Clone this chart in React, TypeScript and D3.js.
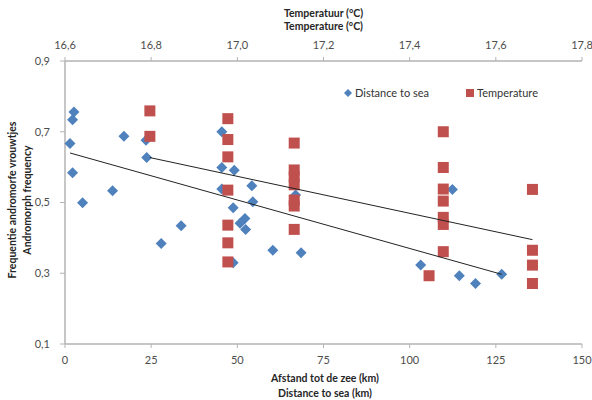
import React from "react";
import * as d3 from "d3";

const distanceKm = [2.6, 2.2, 1.45, 2.2, 5.1, 13.8, 17.1, 23.5, 23.7, 27.9, 33.7, 45.5, 45.5, 49.1, 45.5, 54.2, 48.8, 54.5, 52.2, 50.8, 52.4, 60.3, 68.5, 48.8, 66.9, 112.4, 103.2, 114.4, 119.1, 126.7];
const distanceFreq = [0.756, 0.734, 0.667, 0.584, 0.499, 0.533, 0.687, 0.676, 0.627, 0.384, 0.434, 0.70, 0.599, 0.591, 0.538, 0.547, 0.485, 0.502, 0.455, 0.441, 0.424, 0.365, 0.358, 0.330, 0.521, 0.537, 0.323, 0.293, 0.271, 0.297];

const tempC = [16.797, 16.797, 16.978, 16.978, 16.978, 16.978, 16.978, 16.978, 16.978, 17.132, 17.132, 17.132, 17.132, 17.132, 17.132, 17.132, 17.478, 17.478, 17.478, 17.478, 17.478, 17.478, 17.478, 17.445, 17.685, 17.685, 17.685, 17.685];
const tempFreq = [0.759, 0.687, 0.737, 0.678, 0.629, 0.535, 0.436, 0.386, 0.332, 0.668, 0.592, 0.573, 0.550, 0.507, 0.490, 0.424, 0.70, 0.599, 0.538, 0.504, 0.458, 0.438, 0.361, 0.293, 0.537, 0.365, 0.323, 0.271];

// trendline endpoints
const distanceTrend: [number, number][] = [[1.45, 0.640], [126.7, 0.297]];
const tempTrend: [number, number][] = [[16.797, 0.627], [17.685, 0.395]];

const distanceTicks = [0, 25, 50, 75, 100, 125, 150];
const tempTicks = [16.6, 16.8, 17.0, 17.2, 17.4, 17.6, 17.8];
const freqTicks = [0.1, 0.3, 0.5, 0.7, 0.9];

const BLUE = "#4F81BD";
const RED = "#C0504D";
const AXIS = "#b3b3b3";
const LABEL = "#4d4d4d";
const FONT = "Lato, 'Open Sans', sans-serif";

export default function App() {
  const W = 592, H = 400;
  const left = 65, right = 582, top = 61, bottom = 344;
  const x = d3.scaleLinear().domain([0, 150]).range([left, right]);
  const xt = d3.scaleLinear().domain([16.6, 17.8]).range([left, right]);
  const y = d3.scaleLinear().domain([0.1, 0.9]).range([bottom, top]);
  const fmt = (v: number, d: number) => v.toFixed(d).replace(".", ",");
  const r = 5.5;
  const s = 11;
  const line = d3.line<[number, number]>();

  return (
    <svg width={W} height={H} style={{ position: "absolute", left: 0, top: 0, background: "#fff" }} fontFamily={FONT}>
      <rect width={W} height={H} fill="#fff" />
      {/* axes */}
      <line x1={left} x2={left} y1={top} y2={bottom} stroke={AXIS} strokeWidth={1.5} />
      <line x1={left} x2={right} y1={bottom} y2={bottom} stroke={AXIS} strokeWidth={1.5} />
      <line x1={left} x2={right} y1={top} y2={top} stroke={AXIS} strokeWidth={1.5} />
      {freqTicks.map((t) => (
        <g key={"y" + t}>
          <line x1={left - 5} x2={left} y1={y(t)} y2={y(t)} stroke={AXIS} />
          <text x={left - 15} y={y(t)} dy="0.35em" textAnchor="end" fontSize={11} fill={LABEL}>{fmt(t, 1)}</text>
        </g>
      ))}
      {distanceTicks.map((t) => (
        <g key={"x" + t}>
          <line x1={x(t)} x2={x(t)} y1={bottom} y2={bottom + 4} stroke={AXIS} />
          <text x={x(t)} y={360.5} dy="0.35em" textAnchor="middle" fontSize={11} fill={LABEL}>{t}</text>
        </g>
      ))}
      {tempTicks.map((t) => (
        <g key={"t" + t}>
          <line x1={xt(t)} x2={xt(t)} y1={top - 4} y2={top} stroke={AXIS} />
          <text x={xt(t)} y={45.5} dy="0.35em" textAnchor="middle" fontSize={11} fill={LABEL}>{fmt(t, 1)}</text>
        </g>
      ))}
      {/* titles */}
      <g fontWeight="bold" fontSize={10.5} fill="#262626" textAnchor="middle">
        <text x={323.5} y={13} dy="0.35em">Temperatuur (°C)</text>
        <text x={323.5} y={26.5} dy="0.35em">Temperature (°C)</text>
        <text x={325} y={378} dy="0.35em">Afstand tot de zee (km)</text>
        <text x={325} y={393} dy="0.35em">Distance to sea (km)</text>
        <text transform="translate(12,200) rotate(-90)" dy="0.35em">Frequentie andromorfe vrouwtjes</text>
        <text transform="translate(27,200) rotate(-90)" dy="0.35em">Andromorph frequency</text>
      </g>
      {/* distance markers */}
      {distanceKm.map((d, i) => {
        const cx = x(d), cy = y(distanceFreq[i]);
        return <path key={"d" + i} d={`M${cx},${cy - r}L${cx + r},${cy}L${cx},${cy + r}L${cx - r},${cy}Z`} fill={BLUE} />;
      })}
      {/* temperature markers */}
      {tempC.map((t, i) => (
        <rect key={"s" + i} x={xt(t) - s / 2} y={y(tempFreq[i]) - s / 2} width={s} height={s} fill={RED} />
      ))}
      {/* trendlines */}
      <path d={line(distanceTrend.map(([a, b]) => [x(a), y(b)]) as [number, number][]) || ""} stroke="#222" strokeWidth={1} fill="none" />
      <path d={line(tempTrend.map(([a, b]) => [xt(a), y(b)]) as [number, number][]) || ""} stroke="#222" strokeWidth={1} fill="none" />
      {/* legend */}
      <path d={`M348,${93 - 4}L352,93L348,${93 + 4}L344,93Z`} fill={BLUE} />
      <text x={355} y={93} dy="0.35em" fontSize={11} fill="#333">Distance to sea</text>
      <rect x={466} y={89} width={8} height={8} fill={RED} />
      <text x={477} y={93} dy="0.35em" fontSize={11} fill="#333">Temperature</text>
    </svg>
  );
}
